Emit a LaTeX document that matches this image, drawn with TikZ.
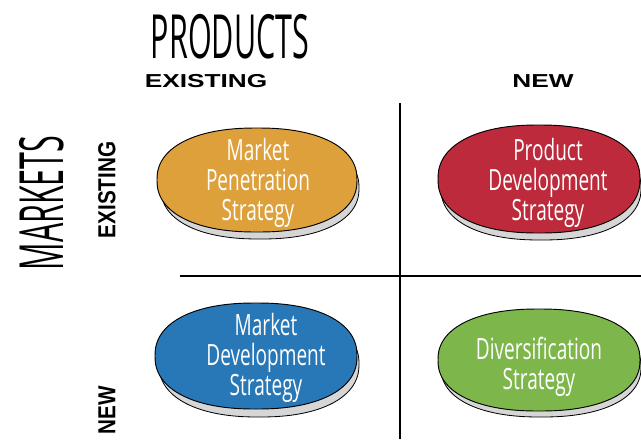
\documentclass[tikz,border=0pt]{standalone}
\usepackage{fontspec}
\usepackage{graphicx}
\setmainfont{Open Sans}
\newfontfamily\handfont[FakeStretch=0.65]{Open Sans}
\newfontfamily\titlefont[FakeStretch=0.5]{Open Sans}
\newfontfamily\axisfont[FakeStretch=1.4]{Liberation Sans}
\usetikzlibrary{positioning}

\definecolor{discorange}{HTML}{DDA03B}
\definecolor{discred}{HTML}{BC2A3B}
\definecolor{discblue}{HTML}{2877B6}
\definecolor{discgreen}{HTML}{7DB64A}
\definecolor{discrim}{HTML}{D6D6D6}

\tikzset{
  rim/.style={fill=discrim, draw=black, line width=0.7pt},
  disc/.style={draw=black, line width=0.8pt},
  blob/.style={domain=2.5:357.5, samples=72, smooth cycle},
  disctext/.style={text=white, align=center, font=\handfont\fontsize{25}{25.6}\selectfont},
  heading/.style={font=\titlefont\fontsize{52}{52}\selectfont},
  axis/.style={font=\axisfont\bfseries\fontsize{16}{16}\selectfont},
  sideaxis/.style={font=\axisfont\bfseries\fontsize{21}{21}\selectfont, rotate=90}
}

\begin{document}
\begin{tikzpicture}[x=0.03cm, y=-0.03cm]
	\useasboundingbox (0,0) rectangle (641,439);
	
	% grid
	\draw[line width=1.1pt] (400,103)--(400,439)  (180,276)--(641,276);
	
	% headings
	\node[heading] (products) at (230,37){PRODUCTS};
	\node[heading, rotate=90] (markets) at (42,203){MARKETS};
	\node[axis] (colold) at (206,81){EXISTING};
	\node[axis] (colnew) at (543,81){NEW};
	\node[sideaxis] (rowold) at (107,190){\scalebox{0.6}[1]{EXISTING}};
	\node[sideaxis] (rownew) at (107,410){\scalebox{0.6}[1]{NEW}};
	
	% discs: rim first, then top
	\draw[rim, shift={(260,188)}] plot[blob] ({99*sign(cos(\x))*abs(cos(\x))^0.88}, {51*sign(sin(\x))*abs(sin(\x))^0.88});
	\draw[disc, fill=discorange, shift={(257,180)}] plot[blob] ({100*sign(cos(\x))*abs(cos(\x))^0.88}, {52*sign(sin(\x))*abs(sin(\x))^0.88});
	\draw[rim, shift={(541,188)}] plot[blob] ({100*sign(cos(\x))*abs(cos(\x))^0.88}, {52*sign(sin(\x))*abs(sin(\x))^0.88});
	\draw[disc, fill=discred, shift={(539,179)}] plot[blob] ({101*sign(cos(\x))*abs(cos(\x))^0.88}, {54*sign(sin(\x))*abs(sin(\x))^0.88});
	\draw[rim, shift={(259,364)}] plot[blob] ({100*sign(cos(\x))*abs(cos(\x))^0.88}, {53*sign(sin(\x))*abs(sin(\x))^0.88});
	\draw[disc, fill=discblue, shift={(256,356)}] plot[blob] ({101*sign(cos(\x))*abs(cos(\x))^0.88}, {53*sign(sin(\x))*abs(sin(\x))^0.88});
	\draw[rim, shift={(541,367)}] plot[blob] ({100*sign(cos(\x))*abs(cos(\x))^0.88}, {50*sign(sin(\x))*abs(sin(\x))^0.88});
	\draw[disc, fill=discgreen, shift={(539,360)}] plot[blob] ({101*sign(cos(\x))*abs(cos(\x))^0.88}, {51*sign(sin(\x))*abs(sin(\x))^0.88});
	
	\node[disctext] (penetration) at (258,183){Market\\Penetration\\Strategy};
	\node[disctext] (product) at (548,183){Product\\Development\\Strategy};
	\node[disctext] (development) at (266,358){Market\\Development\\Strategy};
	\node[disctext] (diversification) at (539,367){Diversification\\Strategy};
\end{tikzpicture}
\end{document}
